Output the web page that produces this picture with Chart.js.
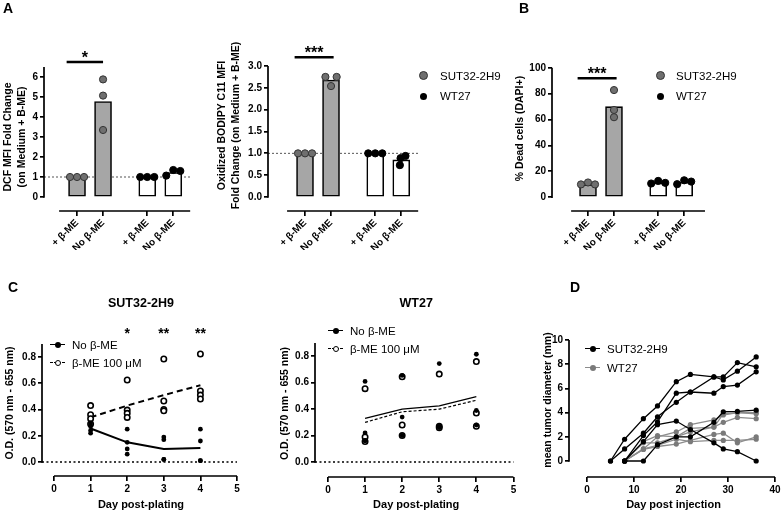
<!DOCTYPE html>
<html>
<head>
<meta charset="utf-8">
<script src="https://cdn.jsdelivr.net/npm/chart.js@4.4.1/dist/chart.umd.min.js"></script>
<style>
  body { margin: 0; background: #fff; }
  #fig { position: relative; width: 784px; height: 512px; overflow: hidden; font-family: "Liberation Sans", Arial, sans-serif; color: #000; }
  #fig canvas { position: absolute; }
  .panel { position: absolute; font-weight: bold; font-size: 14px; line-height: 14px; }
  .leg { position: absolute; font-size: 11.5px; line-height: 14px; white-space: nowrap; }
  .mk { display: inline-block; position: relative; width: 15px; height: 14px; vertical-align: top; margin-right: 7px; }
  .mk .ln { position: absolute; left: 0; right: 0; top: 6px; border-top: 1.6px solid #000; }
  .mk .ln.dash { border-top-style: dashed; }
  .mk .dt { position: absolute; left: 5px; top: 4px; width: 6px; height: 6px; border-radius: 50%; background: #000; box-sizing: border-box; }
  .mk .dt.open { background: #fff; border: 1.5px solid #000; }
</style>
</head>
<body>
<div id="fig">
  <canvas id="dcf" width="200" height="250" style="left:0;top:0"></canvas>
  <canvas id="bodipy" width="220" height="250" style="left:205px;top:0"></canvas>
  <canvas id="dead" width="225" height="250" style="left:500px;top:0"></canvas>
  <canvas id="odSut" width="262" height="242" style="left:0;top:270px"></canvas>
  <canvas id="odWt" width="258" height="242" style="left:265px;top:270px"></canvas>
  <canvas id="tumor" width="259" height="212" style="left:525px;top:300px"></canvas>

  <div class="panel" style="left:3px;top:1px">A</div>
  <div class="panel" style="left:519px;top:1px">B</div>
  <div class="panel" style="left:8px;top:280px">C</div>
  <div class="panel" style="left:570px;top:280px">D</div>

  <div class="leg" style="left:419px;top:69px"><span class="mk" style="width:9px;margin-right:12px"><b class="dt" style="left:0;top:2px;width:9px;height:9px;background:#6f6f6f;border:1px solid #333"></b></span>SUT32-2H9</div>
  <div class="leg" style="left:420px;top:89px"><span class="mk" style="width:7px;margin-right:13px"><b class="dt" style="left:0;top:4px;width:7px;height:7px"></b></span>WT27</div>
  <div class="leg" style="left:656px;top:69px"><span class="mk" style="width:9px;margin-right:11px"><b class="dt" style="left:0;top:2px;width:9px;height:9px;background:#6f6f6f;border:1px solid #333"></b></span>SUT32-2H9</div>
  <div class="leg" style="left:657px;top:89px"><span class="mk" style="width:7px;margin-right:12px"><b class="dt" style="left:0;top:4px;width:7px;height:7px"></b></span>WT27</div>

  <div class="leg" style="left:50px;top:338px"><span class="mk"><b class="ln"></b><b class="dt"></b></span>No β-ME</div>
  <div class="leg" style="left:50px;top:356px"><span class="mk"><b class="ln dash"></b><b class="dt open"></b></span>β-ME 100 μM</div>
  <div class="leg" style="left:328px;top:324px"><span class="mk"><b class="ln" style="border-top-width:1.2px"></b><b class="dt"></b></span>No β-ME</div>
  <div class="leg" style="left:328px;top:342px"><span class="mk"><b class="ln dash" style="border-top-width:1.2px"></b><b class="dt open"></b></span>β-ME 100 μM</div>
  <div class="leg" style="left:585px;top:342px"><span class="mk"><b class="ln" style="border-top-width:1.3px"></b><b class="dt"></b></span>SUT32-2H9</div>
  <div class="leg" style="left:585px;top:361px"><span class="mk"><b class="ln" style="border-top:1.3px solid #8c8c8c"></b><b class="dt" style="background:#7a7a7a"></b></span>WT27</div>
</div>
<script>
// ---- A / B : bar groups ----
const barLabels = ['+ β-ME', 'No β-ME', '+ β-ME', 'No β-ME'];
const barPos = [1, 2, 3.7, 4.7];
const barCell = ['SUT32-2H9', 'SUT32-2H9', 'WT27', 'WT27'];

const dcfMean = [1.0, 4.77, 1.0, 1.22];
const dcfReps = [[1.0, 1.0, 1.0], [5.88, 5.07, 3.35], [1.0, 1.0, 1.0], [1.07, 1.35, 1.3]];
const dcfTicks = [0, 1, 2, 3, 4, 5, 6];

const bodipyMean = [1.0, 2.68, 1.0, 0.85];
const bodipyReps = [[1.0, 1.0, 1.0], [2.75, 2.75, 2.54], [1.0, 1.0, 1.0], [0.73, 0.89, 0.94]];
const bodipyTicks = [0, 0.5, 1.0, 1.5, 2.0, 2.5, 3.0];

const deadMean = [9.5, 70, 11, 11.5];
const deadReps = [[9.8, 11.3, 9.8], [82.8, 67.4, 61.8], [10.5, 12.5, 11], [10, 13, 12]];
const deadTicks = [0, 20, 40, 60, 80, 100];

// ---- C : O.D. per day ----
const plateDays = [1, 2, 3, 4];
const dayTicks = [0, 1, 2, 3, 4, 5];
const odTicks = [0, 0.2, 0.4, 0.6, 0.8];

const sutNoMe = [[0.29, 0.27, 0.24, 0.22], [0.25, 0.15, 0.10, 0.06], [0.19, 0.17, 0.02, 0.02], [0.25, 0.16, 0.01, 0.01]];
const sutMe = [[0.43, 0.36, 0.33, 0.29], [0.625, 0.396, 0.371, 0.34], [0.785, 0.465, 0.40, 0.39], [0.823, 0.541, 0.51, 0.48]];
const sutNoMeMean = [0.255, 0.15, 0.10, 0.107];
const sutMeMean = [0.34, 0.43, 0.51, 0.585];
const sutStars = ['', '*', '**', '**'];

const wtNoMe = [[0.61, 0.22, 0.16], [0.655, 0.34, 0.20], [0.745, 0.27, 0.26], [0.815, 0.39, 0.28]];
const wtMe = [[0.555, 0.19, 0.155], [0.645, 0.28, 0.20], [0.665, 0.27, 0.26], [0.76, 0.37, 0.27]];
const wtNoMeMean = [0.33, 0.40, 0.425, 0.495];
const wtMeMean = [0.30, 0.38, 0.40, 0.467];

// ---- D : tumour growth per mouse ----
const injDays = [5, 8, 12, 15, 19, 22, 27, 29, 32, 36];
const injTicks = [0, 10, 20, 30, 40];
const diamTicks = [0, 2, 4, 6, 8, 10];
const sutMice = [
  [0, 1.8, 3.5, 4.55, 6.55, 7.15, 6.95, 6.95, 8.13, 7.78],
  [0, 1.0, 2.3, 3.65, 4.85, 5.7, 6.95, 6.7, 7.42, 8.6],
  [null, 0, 2.1, 3.24, 5.6, 5.7, 5.6, 6.15, 6.27, 7.37],
  [null, 0, 1.6, 3.0, 3.3, 2.6, 1.5, 1.0, 0.77, 0],
  [null, 0, 0, 1.35, 2.0, 2.0, 3.2, 4.07, 4.1, 4.2]
];
const wtMice = [
  [null, 0, 1.0, 2.0, 2.4, 3.0, 3.4, 3.8, 4.0, 3.9],
  [null, 0, 1.6, 2.1, 2.0, 2.7, 2.8, 3.2, 3.6, 3.5],
  [null, 0, 0.96, 1.2, 1.4, 1.7, 2.2, 2.3, 1.5, 2.0],
  [null, 0, 1.0, 1.3, 1.8, 1.6, 1.7, 1.7, 1.7, 1.8],
  [null, 0, 1.5, 1.5, 2.0, 2.4, 2.8, 3.9, 4.0, 4.0]
];

// ---- styling ----
const FONT = '"Liberation Sans", Arial, sans-serif';
Chart.defaults.font.family = FONT;
Chart.defaults.color = '#000';
Chart.defaults.animation = false;
Chart.defaults.events = [];
Chart.defaults.plugins.legend.display = false;
Chart.defaults.plugins.tooltip.enabled = false;

const cellStyle = {
  'SUT32-2H9': { bar: '#a6a6a6', dot: '#6f6f6f', edge: '#333' },
  'WT27': { bar: '#ffffff', dot: '#000000', edge: '#000' }
};

// prism-style axes: y line from 0 to top tick, detached x line, ref lines, stars
const prism = {
  id: 'prism',
  beforeDatasetsDraw(chart, args, o) {
    if (!o.ref) return;
    const { ctx, chartArea: a, scales: { x, y } } = chart;
    const py = y.getPixelForValue(o.ref.y);
    ctx.save();
    ctx.strokeStyle = o.ref.color;
    ctx.lineWidth = o.ref.width;
    ctx.setLineDash(o.ref.dash);
    ctx.beginPath();
    ctx.moveTo(a.left, py);
    ctx.lineTo(x.getPixelForValue(o.ref.to), py);
    ctx.stroke();
    ctx.restore();
  },
  afterDraw(chart, args, o) {
    const { ctx, chartArea: a, scales: { x, y } } = chart;
    ctx.save();
    ctx.strokeStyle = '#000';
    ctx.lineWidth = 1.7;
    ctx.beginPath();
    ctx.moveTo(a.left, y.getPixelForValue(o.yTo));
    ctx.lineTo(a.left, y.getPixelForValue(o.yFrom) + 0.8);
    ctx.moveTo(x.getPixelForValue(o.xFrom), a.bottom);
    ctx.lineTo(x.getPixelForValue(o.xTo), a.bottom);
    ctx.stroke();
    ctx.fillStyle = '#000';
    ctx.textAlign = 'center';
    ctx.textBaseline = 'alphabetic';
    (o.sig || []).forEach(s => {
      const py = y.getPixelForValue(s.y);
      const x1 = x.getPixelForValue(s.from), x2 = x.getPixelForValue(s.to);
      ctx.lineWidth = 2.4;
      ctx.beginPath();
      ctx.moveTo(x1, py);
      ctx.lineTo(x2, py);
      ctx.stroke();
      ctx.font = 'bold 16px ' + FONT;
      ctx.fillText(s.text, (x1 + x2) / 2, py + 1);
    });
    (o.marks || []).forEach(m => {
      ctx.font = 'bold 14px ' + FONT;
      ctx.fillText(m.text, x.getPixelForValue(m.x), y.getPixelForValue(m.y));
    });
    ctx.restore();
  }
};

function fixedTicks(values) {
  return s => { s.ticks = values.map(v => ({ value: v })); };
}

function yAxis(g) {
  return {
    type: 'linear', min: g.ymin, max: g.ymax,
    afterBuildTicks: fixedTicks(g.yticks),
    afterFit: s => { s.width = g.yw; },
    border: { display: false },
    grid: { drawOnChartArea: false, color: '#000', lineWidth: 1.7, tickLength: 4 },
    ticks: { font: { size: 10, weight: 'bold' }, padding: 2, callback: g.fmt },
    title: { display: true, text: g.ytitle, font: { size: 10.5, weight: 'bold', lineHeight: 1.35 }, padding: { top: g.ytp, bottom: 0 } }
  };
}

function xAxis(g, ticks, tickOpts, title) {
  return {
    type: 'linear', min: g.xmin, max: g.xmax, offset: false,
    afterBuildTicks: fixedTicks(ticks),
    afterFit: s => { s.height = g.xh; },
    border: { display: false },
    grid: { drawOnChartArea: false, offset: false, color: '#000', lineWidth: 1.7, tickLength: 5 },
    ticks: tickOpts,
    title: title ? { display: true, text: title, font: { size: 11, weight: 'bold' }, padding: { top: 0, bottom: 0 } } : { display: false }
  };
}

function barPanel(id, mean, reps, jit, g, sig) {
  const styles = reps.flatMap((r, i) => r.map(() => cellStyle[barCell[i]]));
  new Chart(document.getElementById(id), {
    type: 'bar',
    data: {
      datasets: [{
        type: 'bar',
        data: barPos.map((p, i) => ({ x: p, y: mean[i] })),
        backgroundColor: barCell.map(c => cellStyle[c].bar),
        borderColor: '#000', borderWidth: 1.6, borderSkipped: false, barThickness: 17, order: 2
      }, {
        type: 'scatter',
        data: reps.flatMap((r, i) => r.map((v, j) => ({ x: barPos[i] + jit[i][j] * 0.27, y: v }))),
        pointRadius: 3.6, pointBorderWidth: 1,
        pointBackgroundColor: styles.map(s => s.dot),
        pointBorderColor: styles.map(s => s.edge),
        order: 1
      }]
    },
    options: {
      responsive: false,
      layout: { padding: { top: g.top, right: g.right, left: 0, bottom: 0 } },
      scales: {
        x: xAxis(g, barPos, {
          font: { size: 10, weight: 'bold' }, minRotation: 45, maxRotation: 45, autoSkip: false, padding: 1,
          callback: (v, i) => barLabels[i]
        }),
        y: yAxis(g)
      },
      plugins: {
        prism: {
          yFrom: 0, yTo: g.yTo, xFrom: g.xFrom, xTo: g.xTo,
          ref: g.ref ? { y: 1, to: g.xmax, dash: [2, 2], width: 1, color: '#555' } : null,
          sig: [sig]
        }
      }
    },
    plugins: [prism]
  });
}

barPanel('dcf', dcfMean, dcfReps, [[-1, 0, 1], [0, 0, 0], [-1, 0, 1], [-1, 0, 1]], {
  top: 63, right: 8, yw: 44, xh: 39, xmin: -0.27, xmax: 5.42, ymin: -0.7, ymax: 6.7,
  yticks: dcfTicks, fmt: v => v.toFixed(0), ytitle: ['DCF MFI Fold Change', '(on Medium + B-ME)'], ytp: 1,
  yTo: 6.5, xFrom: 0.31, xTo: 5.35, ref: true
}, { from: 0.6, to: 2.0, y: 6.75, text: '*' });

barPanel('bodipy', bodipyMean, bodipyReps, [[-1, 0, 1], [-0.8, 0.8, 0], [-1, 0, 1], [-0.2, -0.1, 0.6]], {
  top: 40, right: 5, yw: 63, xh: 39, xmin: -0.423, xmax: 5.42, ymin: -0.32, ymax: 3.595,
  yticks: bodipyTicks, fmt: v => v.toFixed(1), ytitle: ['Oxidized BODIPY C11 MFI', 'Fold Change (on Medium + B-ME)'], ytp: 10,
  yTo: 3.0, xFrom: 0.31, xTo: 5.35, ref: true
}, { from: 0.6, to: 2.1, y: 3.2, text: '***' });

barPanel('dead', deadMean, deadReps, [[-1, 0, 1], [0, 0, 0], [-1, 0, 1], [-1, 0, 1]], {
  top: 46, right: 10, yw: 52, xh: 39, xmin: -0.385, xmax: 5.885, ymin: -10.77, ymax: 116.9,
  yticks: deadTicks, fmt: v => v.toFixed(0), ytitle: '% Dead cells (DAPI+)', ytp: 13,
  yTo: 100, xFrom: 0.35, xTo: 5.5, ref: false
}, { from: 0.6, to: 2.1, y: 92, text: '***' });

function odPanel(id, title, noMe, me, noMeMean, meMean, stars, g, lw, dash) {
  const pts = reps => reps.flatMap((r, i) => r.map(v => ({ x: plateDays[i], y: v })));
  new Chart(document.getElementById(id), {
    type: 'scatter',
    data: {
      datasets: [
        { data: pts(noMe), pointRadius: 2.4, pointBackgroundColor: '#000', pointBorderWidth: 0 },
        { data: pts(me), pointRadius: 2.7, pointBackgroundColor: '#fff', pointBorderColor: '#000', pointBorderWidth: 1.6 },
        { type: 'line', data: plateDays.map((d, i) => ({ x: d, y: noMeMean[i] })), borderColor: '#000', borderWidth: lw, pointRadius: 0 },
        { type: 'line', data: plateDays.map((d, i) => ({ x: d, y: meMean[i] })), borderColor: '#000', borderWidth: lw, borderDash: dash, pointRadius: 0 }
      ]
    },
    options: {
      responsive: false,
      layout: { padding: { top: 0, right: g.right, left: 0, bottom: 0 } },
      scales: {
        x: xAxis(g, dayTicks, { font: { size: 10, weight: 'bold' }, padding: 2, maxRotation: 0, callback: v => v }, 'Day post-plating'),
        y: yAxis(g)
      },
      plugins: {
        title: { display: true, text: title, fullSize: false, font: { size: 12.5, weight: 'bold' }, padding: { top: 26, bottom: 19 } },
        prism: {
          yFrom: 0, yTo: 0.9, xFrom: 0, xTo: 5,
          ref: { y: 0, to: 5, dash: [2, 2.5], width: 1.6, color: '#000' },
          marks: plateDays.map((d, i) => ({ x: d, y: 0.948, text: stars[i] }))
        }
      }
    },
    plugins: [prism]
  });
}

odPanel('odSut', 'SUT32-2H9', sutNoMe, sutMe, sutNoMeMean, sutMeMean, sutStars, {
  right: 22, yw: 42, xh: 36, xmin: -0.328, xmax: 5.082, ymin: -0.1067, ymax: 1.006,
  yticks: odTicks, fmt: v => v.toFixed(1), ytitle: 'O.D. (570 nm - 655 nm)', ytp: 3
}, 2, [6, 4]);

odPanel('odWt', 'WT27', wtNoMe, wtMe, wtNoMeMean, wtMeMean, ['', '', '', ''], {
  right: 5, yw: 50, xh: 35, xmin: -0.35, xmax: 5.107, ymin: -0.113, ymax: 0.9985,
  yticks: odTicks, fmt: v => v.toFixed(1), ytitle: 'O.D. (570 nm - 655 nm)', ytp: 13
}, 1.2, [3, 2]);

function mouseSet(vals, line, dot) {
  return {
    data: injDays.map((d, i) => ({ x: d, y: vals[i] })).filter(p => p.y !== null),
    borderColor: line, borderWidth: 1.3, tension: 0,
    pointRadius: 2.6, pointBackgroundColor: dot, pointBorderWidth: 0
  };
}

const tumorGeo = {
  right: 6, yw: 44, xh: 35, xmin: -3.83, xmax: 40.64, ymin: -1.32, ymax: 11.4,
  yticks: diamTicks, fmt: v => v, ytitle: 'mean tumor diameter (mm)', ytp: 16
};
new Chart(document.getElementById('tumor'), {
  type: 'line',
  data: {
    datasets: [
      ...sutMice.map(m => mouseSet(m, '#000', '#000')),
      ...wtMice.map(m => mouseSet(m, '#8c8c8c', '#7a7a7a'))
    ]
  },
  options: {
    responsive: false,
    layout: { padding: { top: 23, right: tumorGeo.right, left: 0, bottom: 0 } },
    scales: {
      x: xAxis(tumorGeo, injTicks, { font: { size: 10, weight: 'bold' }, padding: 2, maxRotation: 0, callback: v => v }, 'Day post injection'),
      y: yAxis(tumorGeo)
    },
    plugins: { prism: { yFrom: 0, yTo: 10, xFrom: 0, xTo: 40 } }
  },
  plugins: [prism]
});
</script>
</body>
</html>
